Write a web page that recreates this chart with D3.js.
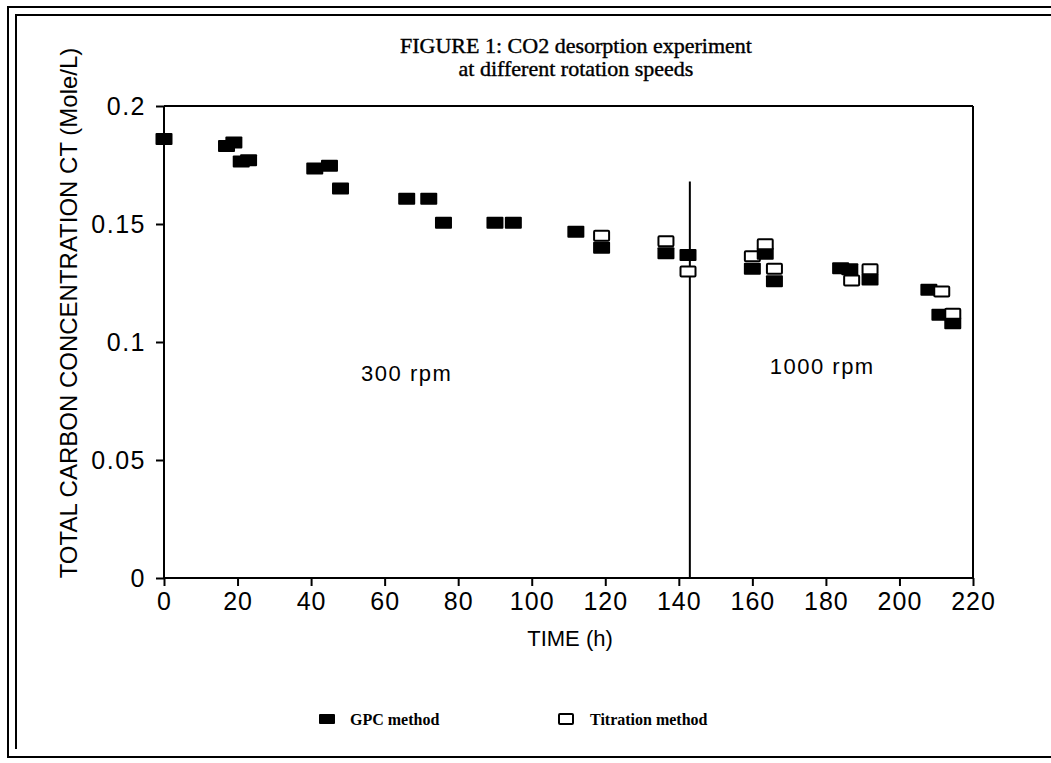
<!DOCTYPE html>
<html>
<head>
<meta charset="utf-8">
<script src="https://cdn.jsdelivr.net/npm/d3@7"></script>
<style>
  html, body { margin: 0; padding: 0; background: #fff; }
  svg { display: block; }
</style>
</head>
<body>
<svg id="chart" width="1051" height="763"></svg>
<script>
// ---- data ----
const gpcTime  = [0, 17, 19, 21, 23, 41, 45, 48, 66, 72, 76, 90, 95, 112, 119, 136.5, 142.5, 160, 163.5, 166, 184, 186.5, 192, 208, 211, 214.5];
const gpcValue = [0.186, 0.183, 0.1845, 0.1765, 0.177, 0.1735, 0.1747, 0.165, 0.1607, 0.1607, 0.1505, 0.1505, 0.1505, 0.1467, 0.1399, 0.1376, 0.1369, 0.131, 0.1374, 0.1257, 0.1312, 0.1308, 0.1265, 0.1221, 0.1115, 0.1079];
const titTime  = [119, 136.5, 142.5, 160, 163.5, 166, 187, 192, 211.5, 214.5];
const titValue = [0.145, 0.1427, 0.1299, 0.1363, 0.1414, 0.131, 0.1261, 0.1308, 0.1214, 0.112];

const xTicks = [0, 20, 40, 60, 80, 100, 120, 140, 160, 180, 200, 220];
const yTicks = [0, 0.05, 0.1, 0.15, 0.2];
const yTickLabels = ["0", "0.05", "0.1", "0.15", "0.2"];

const titleLines = ["FIGURE 1: CO2  desorption experiment", "at different rotation speeds"];
const xTitle = "TIME (h)";
const yTitle = "TOTAL CARBON CONCENTRATION CT (Mole/L)";
const seriesNames = ["GPC method", "Titration method"];

const dividerTime = 143;
const dividerTop = 0.168;
const annotations = [
  { text: "300 rpm", t: 66, v: 0.087 },
  { text: "1000 rpm", t: 179, v: 0.09 }
];

(function () {
// ---- layout ----
const svg = d3.select("#chart");
const W = 1051, H = 763;
const pL = 164, pR = 973, pT = 106, pB = 578;

const x = d3.scaleLinear().domain([0, 220]).range([pL, pR]);
const y = d3.scaleLinear().domain([0, 0.2]).range([pB, pT]);

const sans = "'Liberation Sans', Arial, sans-serif";
const serif = "'Liberation Serif', 'Times New Roman', serif";

// outer frame (double)
svg.append("path")
  .attr("d", `M${W + 5},7 H8 V757 H${W + 5}`)
  .attr("fill", "none").attr("stroke", "#000").attr("stroke-width", 2);
svg.append("path")
  .attr("d", `M${W + 5},15 H16 V749`)
  .attr("fill", "none").attr("stroke", "#000").attr("stroke-width", 2);

// title
svg.append("g").selectAll("text").data(titleLines).join("text")
  .attr("x", 576)
  .attr("y", (d, i) => 53 + i * 23)
  .attr("text-anchor", "middle")
  .attr("font-family", serif)
  .attr("font-size", 22)
  .attr("fill", "#000")
  .attr("stroke", "#000").attr("stroke-width", 0.4)
  .text(d => d);

// plot box top and right lines
svg.append("line").attr("x1", pL).attr("x2", pR).attr("y1", pT).attr("y2", pT)
  .attr("stroke", "#000").attr("stroke-width", 2);
svg.append("line").attr("x1", pR).attr("x2", pR).attr("y1", pT).attr("y2", pB)
  .attr("stroke", "#000").attr("stroke-width", 2);

// axes
const xAxis = d3.axisBottom(x).tickValues(xTicks).tickSize(8).tickPadding(6).tickFormat(d3.format("d"));
const gx = svg.append("g").attr("transform", `translate(0,${pB})`).call(xAxis);
gx.select(".domain").attr("stroke-width", 2).attr("d", `M${pL},0H${pR}`);
gx.selectAll(".tick line").attr("stroke-width", 2);
gx.selectAll(".tick text")
  .attr("font-family", sans).attr("font-size", 25).attr("letter-spacing", 1)
  .attr("fill", "#000");

const yAxis = d3.axisLeft(y).tickValues(yTicks).tickSize(8).tickPadding(10)
  .tickFormat((d, i) => yTickLabels[i]);
const gy = svg.append("g").attr("transform", `translate(${pL},0)`).call(yAxis);
gy.select(".domain").attr("stroke-width", 2).attr("d", `M0,${pT}V${pB}`);
gy.selectAll(".tick line").attr("stroke-width", 2);
gy.selectAll(".tick text")
  .attr("font-family", sans).attr("font-size", 25).attr("letter-spacing", 1.5)
  .attr("fill", "#000");

// axis titles
svg.append("text")
  .attr("x", 570).attr("y", 646)
  .attr("text-anchor", "middle")
  .attr("font-family", sans).attr("font-size", 22)
  .attr("fill", "#000")
  .text(xTitle);

svg.append("text")
  .attr("transform", `translate(77,${(48 + 578) / 2}) rotate(-90)`)
  .attr("text-anchor", "middle")
  .attr("font-family", sans).attr("font-size", 24)
  .attr("fill", "#000")
  .text(yTitle);

// divider
svg.append("line")
  .attr("x1", x(dividerTime)).attr("x2", x(dividerTime))
  .attr("y1", y(dividerTop)).attr("y2", y(0))
  .attr("stroke", "#000").attr("stroke-width", 2);

// annotations
svg.append("g").selectAll("text").data(annotations).join("text")
  .attr("x", d => x(d.t)).attr("y", d => y(d.v) + 8)
  .attr("text-anchor", "middle")
  .attr("font-family", sans).attr("font-size", 22).attr("letter-spacing", 1.5)
  .attr("fill", "#000")
  .text(d => d.text);

// markers, drawn in time order
const mw = 17, mh = 12;
const pts = [];
gpcTime.forEach((t, i) => pts.push({ t, v: gpcValue[i], s: 0 }));
titTime.forEach((t, i) => pts.push({ t, v: titValue[i], s: 1 }));
pts.sort((a, b) => a.t - b.t || a.s - b.s);

svg.append("g").selectAll("rect").data(pts).join("rect")
  .attr("x", d => x(d.t) - (d.s ? (mw - 2) / 2 : mw / 2))
  .attr("y", d => y(d.v) - (d.s ? (mh - 2) / 2 : mh / 2))
  .attr("width", d => d.s ? mw - 2 : mw)
  .attr("height", d => d.s ? mh - 2 : mh)
  .attr("rx", 1)
  .attr("fill", d => d.s ? "#fff" : "#000")
  .attr("stroke", d => d.s ? "#000" : "none")
  .attr("stroke-width", 2);

// legend
const legend = svg.append("g");
const legItems = [
  { name: seriesNames[0], s: 0, mx: 327, tx: 350 },
  { name: seriesNames[1], s: 1, mx: 566, tx: 590 }
];
legItems.forEach(it => {
  legend.append("rect")
    .attr("x", it.mx - (it.s ? 7 : 8)).attr("y", 714)
    .attr("width", it.s ? 14 : 16).attr("height", 10)
    .attr("rx", 1)
    .attr("fill", it.s ? "#fff" : "#000")
    .attr("stroke", it.s ? "#000" : "none")
    .attr("stroke-width", 2);
  legend.append("text")
    .attr("x", it.tx).attr("y", 725)
    .attr("font-family", serif).attr("font-size", 16).attr("font-weight", "bold")
    .attr("fill", "#000")
    .text(it.name);
});
})();
</script>
</body>
</html>
